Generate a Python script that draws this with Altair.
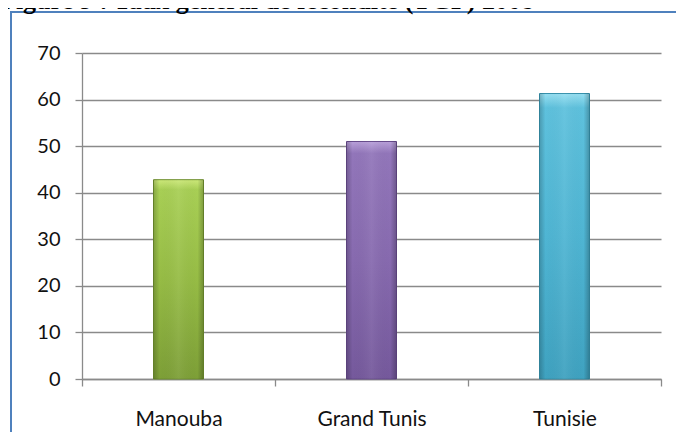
import altair as alt
import pandas as pd

categories = ["Manouba", "Grand Tunis", "Tunisie"]
values = [42.8, 51.0, 61.3]
y_ticks = [0, 10, 20, 30, 40, 50, 60, 70]
title_text = "Figure 9 : Taux général de fécondité (TGF) 2008"

# gradient stops per bar (top light cap -> body -> darker bottom), and edge colour
bar_styles = {
    "Manouba": (["#cde97a", "#a8cf55", "#96bc45", "#7d9f37"], "#6f8f2e"),
    "Grand Tunis": (["#b9a0da", "#9276ba", "#876aaf", "#75599c"], "#65498a"),
    "Tunisie": (["#98e0f2", "#5ec1dd", "#4fb5d3", "#3fa2c0"], "#3590ab"),
}

df = pd.DataFrame({"region": categories, "tgf": values})

x_enc = alt.X(
    "region:N",
    sort=categories,
    scale=alt.Scale(paddingInner=0, paddingOuter=0),
    axis=alt.Axis(
        title=None,
        labelAngle=0,
        tickBand="extent",
        tickSize=7,
        labelPadding=22,
        labelFont="Lato",
        labelFontSize=21,
        labelColor="#111111",
        domainColor="#8a8a8a",
        domainWidth=1.3,
        tickColor="#8a8a8a",
        tickWidth=1.3,
        grid=False,
    ),
)
y_enc = alt.Y(
    "tgf:Q",
    scale=alt.Scale(domain=[0, 70], nice=False),
    axis=alt.Axis(
        title=None,
        values=y_ticks,
        tickSize=7,
        labelPadding=15,
        labelFont="Lato",
        labelFontSize=20,
        labelColor="#111111",
        domainColor="#8a8a8a",
        domainWidth=1.3,
        tickColor="#8a8a8a",
        tickWidth=1.3,
        grid=True,
        gridColor="#8a8a8a",
        gridWidth=1.3,
    ),
)

base = alt.Chart(df)
bar_layers = []
for cat in categories:
    stops, edge = bar_styles[cat]
    grad = alt.Gradient(
        gradient="linear",
        stops=[
            alt.GradientStop(color=stops[0], offset=0),
            alt.GradientStop(color=stops[1], offset=0.05),
            alt.GradientStop(color=stops[2], offset=0.5),
            alt.GradientStop(color=stops[3], offset=1),
        ],
        x1=0, x2=0, y1=0, y2=1,
    )
    bar_layers.append(
        base.mark_bar(size=50, color=grad, stroke=edge, strokeWidth=1)
        .encode(x=x_enc, y=y_enc)
        .transform_filter(alt.datum.region == cat)
    )

# bevel shading: darker left / right edges over every bar
bevel = alt.Gradient(
    gradient="linear",
    stops=[
        alt.GradientStop(color="rgba(0,0,0,0.20)", offset=0),
        alt.GradientStop(color="rgba(0,0,0,0)", offset=0.12),
        alt.GradientStop(color="rgba(255,255,255,0.06)", offset=0.5),
        alt.GradientStop(color="rgba(0,0,0,0)", offset=0.88),
        alt.GradientStop(color="rgba(0,0,0,0.24)", offset=1),
    ],
    x1=0, x2=1, y1=0, y2=0,
)
bevel_layer = base.mark_bar(size=50, color=bevel).encode(x=x_enc, y=y_enc)

frame = alt.Chart(pd.DataFrame({"f": [0]})).mark_rect(
    fillOpacity=0, stroke="#4f81bd", strokeWidth=2
).encode(
    x=alt.value(-71), x2=alt.value(720), y=alt.value(-41), y2=alt.value(520)
)

title = alt.Chart(pd.DataFrame({"t": [title_text]})).mark_text(
    align="left", baseline="alphabetic", font="Liberation Serif",
    fontWeight="bold", fontSize=26, color="#000000"
).encode(text="t:N", x=alt.value(-82), y=alt.value(-44))

chart = alt.layer(frame, *bar_layers, bevel_layer, title).properties(
    width=579,
    height=326,
    autosize=alt.AutoSizeParams(type="none"),
    padding={"left": 74, "top": 45, "right": 15, "bottom": 53},
    background="white",
).configure_view(stroke=None)

chart.save("out.html", embed_options={"renderer": "svg", "actions": False})
